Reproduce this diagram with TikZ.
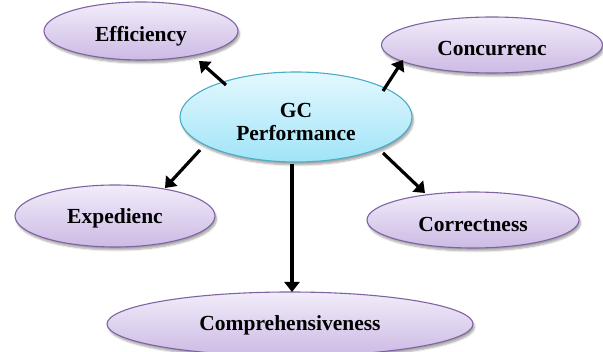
\documentclass[tikz,border=0pt]{standalone}
\usepackage{fontspec}
\setmainfont{Liberation Serif}
\usetikzlibrary{shapes.geometric,arrows.meta,shadows.blur}

\definecolor{lavtop}{RGB}{242,236,250}
\definecolor{lavbot}{RGB}{204,186,228}
\definecolor{lavline}{RGB}{128,100,162}
\definecolor{cyantop}{RGB}{228,248,254}
\definecolor{cyanbot}{RGB}{160,228,248}
\definecolor{cyanline}{RGB}{75,172,198}

\tikzset{
  topic/.style={ellipse, draw=lavline, line width=1.1pt,
    top color=lavtop, bottom color=lavbot,
    blur shadow={shadow xshift=1.5pt, shadow yshift=-3pt, shadow blur steps=6, shadow opacity=35},
    inner sep=0pt},
  hub/.style={ellipse, draw=cyanline, line width=1.1pt,
    top color=cyantop, bottom color=cyanbot,
    blur shadow={shadow xshift=1.5pt, shadow yshift=-3pt, shadow blur steps=6, shadow opacity=35},
    inner sep=0pt},
  label/.style={font=\fontsize{21.5}{23}\selectfont\bfseries, align=center, inner sep=0pt},
  arr/.style={line width=3.2pt, -{Triangle[length=10pt,width=15pt]}}
}

\begin{document}
\begin{tikzpicture}[x=1pt, y=-1pt]
  \useasboundingbox (0,0) rectangle (603,352);

  % outer topics
  \node[topic, minimum width=194pt, minimum height=58pt] (eff)  at (141,31)  {};
  \node[label] (efft) at (141,36) {Efficiency};
  \node[topic, minimum width=221pt, minimum height=56pt] (conc) at (492,45)  {};
  \node[label] (conct) at (492,49) {Concurrenc};
  \node[topic, minimum width=200pt, minimum height=62pt] (exp)  at (115,216) {};
  \node[label] (expt) at (115,218) {Expedienc};
  \node[topic, minimum width=212pt, minimum height=56pt] (corr) at (473,220) {};
  \node[label] (corrt) at (473,224) {Correctness};
  \node[topic, minimum width=366pt, minimum height=64pt] (comp) at (290,324) {};
  \node[label] (compt) at (290,325) {Comprehensiveness};

  % central hub
  \node[hub, minimum width=232pt, minimum height=90pt] (gc) at (296,117) {};
  \node[label] (gct) at (296,122) {GC\\Performance};

  % connectors from the hub to each topic
  \draw[arr] ([shift={(-70,-32)}]gc.center) -- ([shift={(58,30)}]eff.center);
  \draw[arr] ([shift={(87,-26)}]gc.center)  -- ([shift={(-89,15)}]conc.center);
  \draw[arr] ([shift={(-96,33)}]gc.center)  -- ([shift={(50,-28)}]exp.center);
  \draw[arr] ([shift={(87,36)}]gc.center)   -- ([shift={(-48,-27)}]corr.center);
  \draw[arr] ([shift={(-4,47)}]gc.center)   -- ([shift={(2,-32)}]comp.center);
\end{tikzpicture}
\end{document}
